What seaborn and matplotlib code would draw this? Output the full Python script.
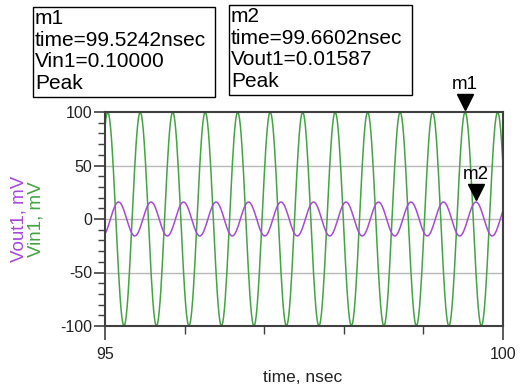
import numpy as np
import pandas as pd
import matplotlib
matplotlib.use("Agg")
import matplotlib.pyplot as plt
import matplotlib.transforms as mtransforms
from matplotlib.patches import Rectangle
import seaborn as sns

# values (marker readouts and peak spacing)
t_start, t_stop = 95.0, 100.0          # nsec
t_step = 0.01                          # nsec
freq_ghz = 2.45                        # from spacing of the peaks
vin_amp_mv = 100.0                     # Vin1=0.10000 V
vin_peak_t = 99.5242
vout_amp_mv = 15.87                    # Vout1=0.01587 V
vout_peak_t = 99.6602

y_ticks = [-100, -50, 0, 50, 100]
x_tick_labels = {95: "95", 100: "100"}

markers = [
    ("m1", vin_peak_t, vin_amp_mv, ["m1", "time=99.5242nsec", "Vin1=0.10000", "Peak"]),
    ("m2", vout_peak_t, vout_amp_mv, ["m2", "time=99.6602nsec", "Vout1=0.01587", "Peak"]),
]

t = np.arange(t_start, t_stop + t_step / 2, t_step)
w = 2 * np.pi * freq_ghz
df = pd.DataFrame({
    "time": t,
    "Vin1": vin_amp_mv * np.cos(w * (t - vin_peak_t)),
    "Vout1": vout_amp_mv * np.cos(w * (t - vout_peak_t)),
})

sns.set_theme(style="white")
plt.rcParams["font.family"] = ["Liberation Sans", "DejaVu Sans"]

green = "#42a442"
purple = "#a848dc"
spine_c = "#404040"

fig = plt.figure(figsize=(5.23, 3.90), dpi=100)
ax = fig.add_axes([105 / 523, 1 - 326 / 390, 398 / 523, 214 / 390])

sns.lineplot(data=df, x="time", y="Vin1", color=green, lw=1.1, ax=ax)
sns.lineplot(data=df, x="time", y="Vout1", color=purple, lw=1.1, ax=ax)

ax.set_xlim(t_start, t_stop)
ax.set_ylim(-100, 100)
ax.set_xlabel("")
ax.set_ylabel("")

ax.set_yticks(y_ticks)
ax.set_yticklabels([str(v) for v in y_ticks])
ax.set_yticks(np.arange(-100, 101, 10), minor=True)
ax.set_xticks(list(x_tick_labels.keys()))
ax.set_xticklabels(list(x_tick_labels.values()))
ax.set_xticks(np.arange(96, 100, 1), minor=True)

ax.tick_params(axis="y", which="major", length=8, width=1.2, color=spine_c,
               labelsize=11.5, pad=1, labelcolor="#222222", left=True)
ax.tick_params(axis="y", which="minor", length=5, width=1.0, color=spine_c, left=True)
ax.tick_params(axis="x", which="major", length=10, width=1.2, color=spine_c,
               labelsize=11.5, pad=5, labelcolor="#222222", bottom=True)
ax.tick_params(axis="x", which="minor", length=6, width=1.0, color=spine_c, bottom=True)

for y in [-50, 0, 50]:
    ax.axhline(y, color="#b8b8b8", lw=1.0, zorder=0)

for s in ax.spines.values():
    s.set_color(spine_c)
    s.set_linewidth(1.5)

fig.text(303 / 523, 1 - 378 / 390, "time, nsec", ha="center", va="center",
         fontsize=12.5, color="#222222")
fig.text(19 / 523, 0.5 * (2 - (112 + 326) / 390), "Vout1, mV", rotation=90,
         ha="center", va="center", fontsize=13.5, color=purple)
fig.text(36 / 523, 0.5 * (2 - (112 + 326) / 390), "Vin1, mV", rotation=90,
         ha="center", va="center", fontsize=13.5, color=green)

# marker triangles and labels
for name, mt, mv, _ in markers:
    off = mtransforms.offset_copy(ax.transData, fig=fig, x=0, y=7, units="points")
    ax.plot([mt], [mv], marker="v", ms=11, color="black", transform=off,
            clip_on=False, zorder=5)
    off2 = mtransforms.offset_copy(ax.transData, fig=fig, x=0, y=14, units="points")
    ax.text(mt, mv, name, transform=off2, ha="center", va="bottom",
            fontsize=13.5, color="black", clip_on=False)

# readout boxes
boxes = [(33, 7, 182, 90), (229, 5, 183, 90)]
for (bx, by, bw, bh), (_, _, _, lines) in zip(boxes, markers):
    fig.patches.append(Rectangle((bx / 523, 1 - (by + bh) / 390), bw / 523, bh / 390,
                                 transform=fig.transFigure, fill=False,
                                 edgecolor="black", lw=1.0))
    fig.text((bx + 2) / 523, 1 - (by + 2) / 390, "\n".join(lines), ha="left", va="top",
             fontsize=15, linespacing=1.17, color="black")

fig.savefig("out.png", dpi=100)
